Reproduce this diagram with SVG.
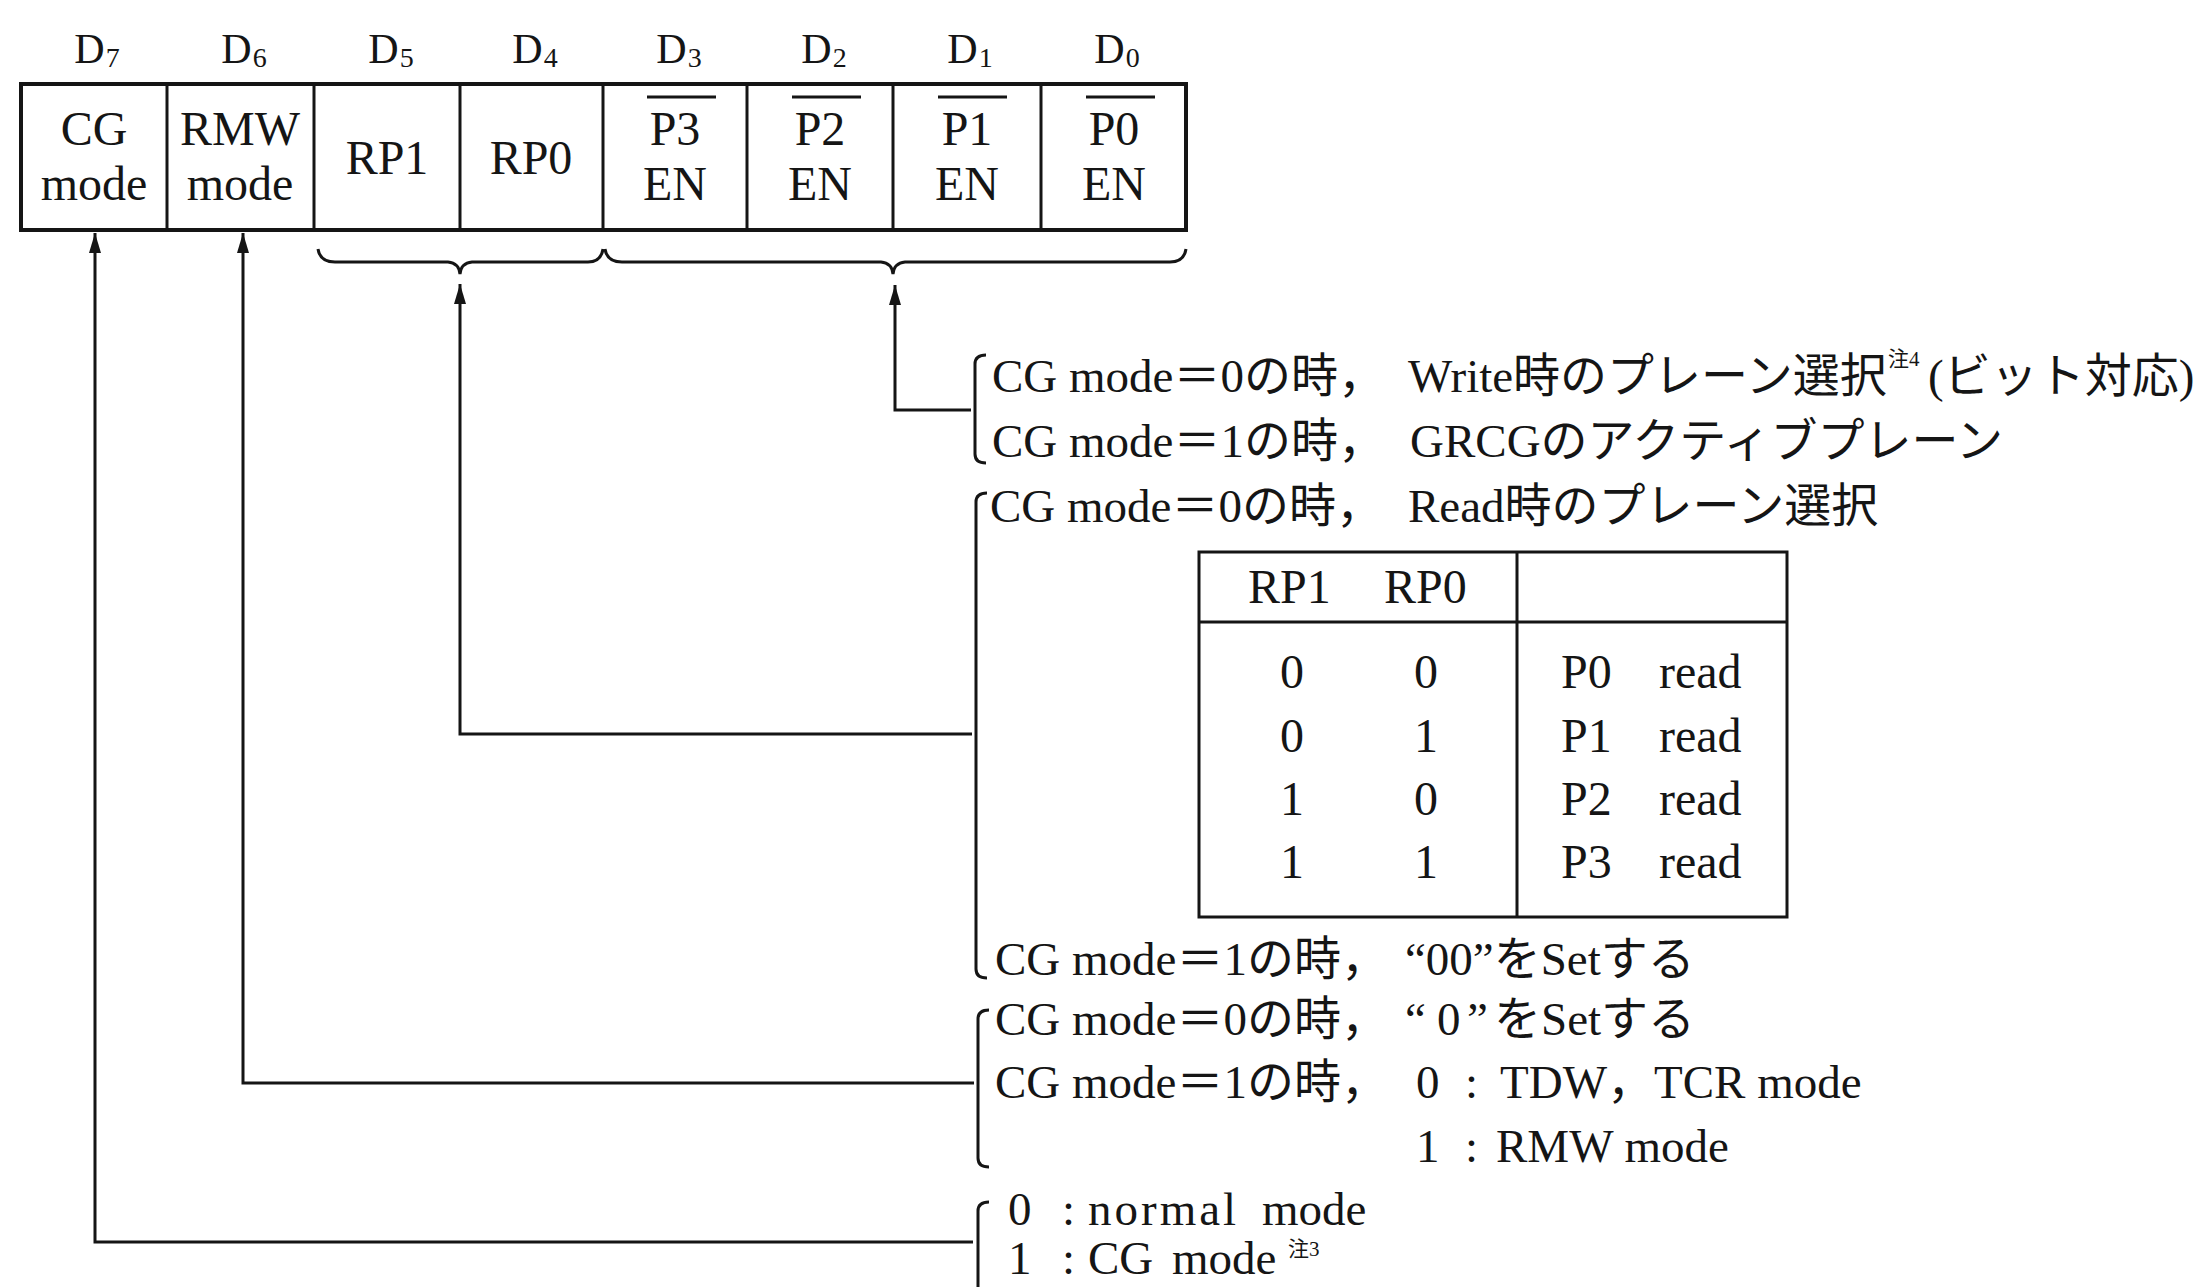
<svg xmlns="http://www.w3.org/2000/svg" width="2209" height="1287" viewBox="0 0 2209 1287">
<style>
.t{font-family:"Liberation Serif","Noto Sans CJK JP",serif;fill:#151515}
.cell{font-size:48px;text-anchor:middle}
.lbl{font-size:42px;text-anchor:middle}
.sub{font-size:28px}
.d{font-size:47px}
.sup{font-size:21px}
.tb{font-size:48px}
.ln{stroke:#151515;stroke-width:3;fill:none}
.box{stroke:#151515;stroke-width:4;fill:none}
.div{stroke:#151515;stroke-width:3}
.ov{stroke:#151515;stroke-width:3}
</style>
<defs>
<marker id="ah" viewBox="0 0 20 12" refX="20" refY="6" markerWidth="21" markerHeight="12" markerUnits="userSpaceOnUse" orient="auto-start-reverse">
<path d="M0,0 L20,6 L0,12 z" fill="#151515"/>
</marker>
</defs>
<rect width="2209" height="1287" fill="#ffffff"/>

<g id="bit-labels" class="t lbl">
<text x="97" y="63">D<tspan class="sub" dx="1" dy="4">7</tspan></text>
<text x="244" y="63">D<tspan class="sub" dx="1" dy="4">6</tspan></text>
<text x="391" y="63">D<tspan class="sub" dx="1" dy="4">5</tspan></text>
<text x="535" y="63">D<tspan class="sub" dx="1" dy="4">4</tspan></text>
<text x="679" y="63">D<tspan class="sub" dx="1" dy="4">3</tspan></text>
<text x="824" y="63">D<tspan class="sub" dx="1" dy="4">2</tspan></text>
<text x="970" y="63">D<tspan class="sub" dx="1" dy="4">1</tspan></text>
<text x="1117" y="63">D<tspan class="sub" dx="1" dy="4">0</tspan></text>
</g>

<g id="register">
<rect class="box" x="21" y="84" width="1165" height="146"/>
<line class="div" x1="167" y1="84" x2="167" y2="230"/>
<line class="div" x1="314" y1="84" x2="314" y2="230"/>
<line class="div" x1="460" y1="84" x2="460" y2="230"/>
<line class="div" x1="603" y1="84" x2="603" y2="230"/>
<line class="div" x1="747" y1="84" x2="747" y2="230"/>
<line class="div" x1="893" y1="84" x2="893" y2="230"/>
<line class="div" x1="1041" y1="84" x2="1041" y2="230"/>
</g>
<g id="cell-d7" class="t cell"><text x="94" y="145">CG</text><text x="94" y="200">mode</text></g>
<g id="cell-d6" class="t cell"><text x="240" y="145">RMW</text><text x="240" y="200">mode</text></g>
<g id="cell-d5" class="t cell"><text x="387" y="174">RP1</text></g>
<g id="cell-d4" class="t cell"><text x="531" y="174">RP0</text></g>
<g id="cell-d3" class="t cell"><line class="ov" x1="647" y1="97" x2="716" y2="97"/><text x="675" y="145">P3</text><text x="675" y="200">EN</text></g>
<g id="cell-d2" class="t cell"><line class="ov" x1="792" y1="97" x2="861" y2="97"/><text x="820" y="145">P2</text><text x="820" y="200">EN</text></g>
<g id="cell-d1" class="t cell"><line class="ov" x1="938" y1="97" x2="1007" y2="97"/><text x="967" y="145">P1</text><text x="967" y="200">EN</text></g>
<g id="cell-d0" class="t cell"><line class="ov" x1="1086" y1="97" x2="1155" y2="97"/><text x="1114" y="145">P0</text><text x="1114" y="200">EN</text></g>

<g id="braces">
<path class="ln" d="M318,249 Q320,262 335,262 L448,262 Q459,263 460,274 Q461,263 472,262 L588,262 Q601,262 603,249"/>
<path class="ln" d="M605,249 Q607,262 622,262 L881,262 Q892,263 893,274 Q894,263 905,262 L1170,262 Q1184,262 1186,249"/>
</g>

<g id="connectors">
<path class="ln" marker-start="url(#ah)" d="M95,233 V1242 H973"/>
<path class="ln" marker-start="url(#ah)" d="M243,233 V1083 H974"/>
<path class="ln" marker-start="url(#ah)" d="M460,284 V734 H972"/>
<path class="ln" marker-start="url(#ah)" d="M895,285 V410 H971"/>
</g>

<g id="brackets">
<path class="ln" d="M986,355 Q975,355 975,364 L975,454 Q975,463 986,463"/>
<path class="ln" d="M987,493 Q976,493 976,502 L976,969 Q976,978 987,978"/>
<path class="ln" d="M989,1010 Q978,1010 978,1019 L978,1158 Q978,1167 989,1167"/>
<path class="ln" d="M989,1202 Q978,1202 978,1211 L978,1300"/>
</g>

<g id="desc-plane-write" class="t d">
<text x="992" y="392">CG mode＝0の時，</text>
<text x="1408" y="392">Write時のプレーン選択</text>
<text class="sup" x="1888" y="366">注4</text>
<text x="1928" y="392">(ビット対応)</text>
<text x="992" y="457">CG mode＝1の時，</text>
<text x="1410" y="457">GRCGのアクティブプレーン</text>
</g>

<g id="desc-plane-read" class="t d">
<text x="990" y="522">CG mode＝0の時，</text>
<text x="1408" y="522">Read時のプレーン選択</text>
<text x="995" y="975">CG mode＝1の時，</text>
<text x="1405" y="975">“00”をSetする</text>
</g>

<g id="read-table">
<rect class="ln" x="1199" y="552" width="588" height="365"/>
<line class="div" x1="1199" y1="622" x2="1787" y2="622"/>
<line class="div" x1="1517" y1="552" x2="1517" y2="917"/>
<g class="t tb">
<text x="1248" y="603">RP1</text>
<text x="1384" y="603">RP0</text>
<g text-anchor="middle">
<text x="1292" y="688">0</text><text x="1426" y="688">0</text>
<text x="1292" y="752">0</text><text x="1426" y="752">1</text>
<text x="1292" y="815">1</text><text x="1426" y="815">0</text>
<text x="1292" y="878">1</text><text x="1426" y="878">1</text>
</g>
<text x="1561" y="688">P0</text><text x="1659" y="688">read</text>
<text x="1561" y="752">P1</text><text x="1659" y="752">read</text>
<text x="1561" y="815">P2</text><text x="1659" y="815">read</text>
<text x="1561" y="878">P3</text><text x="1659" y="878">read</text>
</g>
</g>

<g id="desc-rmw" class="t d">
<text x="995" y="1035">CG mode＝0の時，</text>
<text x="1405" y="1035">“</text><text x="1437" y="1035">0</text><text x="1467" y="1035">”</text><text x="1494" y="1035">をSetする</text>
<text x="995" y="1098">CG mode＝1の時，</text>
<text x="1416" y="1098">0</text><text x="1465" y="1098">:</text><text x="1500" y="1098">TDW，TCR mode</text>
<text x="1416" y="1162">1</text><text x="1465" y="1162">:</text><text x="1496" y="1162">RMW mode</text>
</g>

<g id="desc-cg" class="t d">
<text x="1008" y="1225">0</text><text x="1062" y="1225">:</text><text x="1088" y="1225" letter-spacing="3">normal</text><text x="1262" y="1225">mode</text>
<text x="1008" y="1274">1</text><text x="1062" y="1274">:</text><text x="1088" y="1274">CG</text><text x="1172" y="1274">mode</text>
<text class="sup" x="1288" y="1256">注3</text>
</g>
</svg>
